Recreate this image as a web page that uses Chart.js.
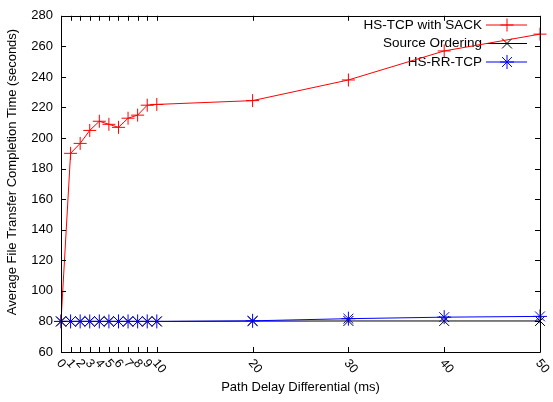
<!DOCTYPE html>
<html>
<head>
<meta charset="utf-8">
<script src="https://cdn.jsdelivr.net/npm/chart.js@4/dist/chart.umd.min.js"></script>
<style>
  html, body { margin: 0; padding: 0; background: #fff; }
  #wrap { width: 553px; height: 402px; }
</style>
</head>
<body>
<div id="wrap"><canvas id="c" width="553" height="402"></canvas></div>
<script>
// data
const delays = [0, 1, 2, 3, 4, 5, 6, 7, 8, 9, 10, 20, 30, 40, 50];
const sackTimes = [80, 190, 196.5, 205, 211, 209, 207, 213, 215, 221.5, 222, 224.5, 238, 257, 268];
const orderingTimes = [80, 80, 80, 80, 80, 80, 80, 80, 80, 80, 80, 80.2, 80.3, 80.3, 80.3];
const rrTimes = [80, 80, 80, 80, 80, 80, 80, 80, 80, 80, 80, 80.4, 81.8, 82.8, 83.3];
const xTicks = [0, 1, 2, 3, 4, 5, 6, 7, 8, 9, 10, 20, 30, 40, 50];

const seriesNames = ['HS-TCP with SACK', 'Source Ordering', 'HS-RR-TCP'];
const seriesColours = ['#ff0000', '#000000', '#0000ff'];
const seriesMarkers = ['cross', 'crossRot', 'star'];
const markerSizes = [6.5, 7, 7];
const yTitle = 'Average File Transfer Completion Time (seconds)';

const FONT = '"Liberation Sans", Arial, Helvetica, sans-serif';
Chart.defaults.font.family = FONT;
Chart.defaults.font.size = 13;
Chart.defaults.color = '#000';

function toPoints(ys) {
    return delays.map((x, i) => ({x: x, y: ys[i]}));
}

function makeSet(i, ys) {
    return {
        label: seriesNames[i],
        data: toPoints(ys),
        borderColor: seriesColours[i],
        backgroundColor: seriesColours[i],
        borderWidth: 1,
        pointStyle: seriesMarkers[i],
        pointRadius: markerSizes[i],
        pointBorderWidth: 1,
        pointBorderColor: seriesColours[i],
        tension: 0,
        clip: false,
        order: 3 - i
    };
}

// gnuplot style frame: box, inward ticks, rotated x labels, key in the corner
const framePlugin = {
    id: 'frame',
    beforeDatasetsDraw(chart) {
        const ctx = chart.ctx;
        // key
        ctx.save();
        ctx.font = '13.5px ' + FONT;
        ctx.textAlign = 'right';
        ctx.textBaseline = 'middle';
        const rows = [25, 43.5, 62];
        for (let i = 0; i < seriesNames.length; i++) {
            const y = rows[i];
            ctx.fillStyle = '#000';
            ctx.fillText(seriesNames[i], 482, y);
            ctx.strokeStyle = seriesColours[i];
            ctx.lineWidth = 1;
            ctx.beginPath();
            ctx.moveTo(486, y);
            ctx.lineTo(527, y);
            ctx.stroke();
            Chart.helpers.drawPoint(ctx, {
                pointStyle: seriesMarkers[i], radius: markerSizes[i], borderWidth: 1, rotation: 0
            }, 507, y);
        }
        // y axis title, drawn by hand so it sits where the original has it
        ctx.save();
        ctx.translate(12, 172);
        ctx.rotate(-Math.PI / 2);
        ctx.textAlign = 'center';
        ctx.font = '13px ' + FONT;
        ctx.fillText(yTitle, 0, 0);
        ctx.restore();
        ctx.restore();
    },
    afterDraw(chart) {
        const ctx = chart.ctx;
        const a = chart.chartArea;
        const xs = chart.scales.x;
        const ys = chart.scales.y;
        ctx.save();
        ctx.strokeStyle = '#000';
        ctx.lineWidth = 1;
        ctx.beginPath();
        ctx.rect(Math.round(a.left) + 0.5, Math.round(a.top) + 0.5,
                 Math.round(a.right - a.left), Math.round(a.bottom - a.top));
        ctx.stroke();
        ctx.beginPath();
        xTicks.forEach(v => {
            const px = Math.round(xs.getPixelForValue(v)) + 0.5;
            ctx.moveTo(px, a.bottom); ctx.lineTo(px, a.bottom - 5);
            ctx.moveTo(px, a.top); ctx.lineTo(px, a.top + 5);
        });
        ys.ticks.forEach(t => {
            const py = Math.round(ys.getPixelForValue(t.value)) + 0.5;
            ctx.moveTo(a.left, py); ctx.lineTo(a.left + 5, py);
            ctx.moveTo(a.right, py); ctx.lineTo(a.right - 5, py);
        });
        ctx.stroke();
        // rotated x tick labels
        ctx.fillStyle = '#000';
        ctx.font = '12.5px ' + FONT;
        ctx.textAlign = 'left';
        ctx.textBaseline = 'middle';
        xTicks.forEach(v => {
            const px = xs.getPixelForValue(v);
            ctx.save();
            ctx.translate(px - 2, a.bottom + 9);
            ctx.rotate(50 * Math.PI / 180);
            ctx.fillText(String(v), 0, 0);
            ctx.restore();
        });
        ctx.restore();
    }
};

new Chart(document.getElementById('c'), {
    type: 'line',
    data: {
        datasets: [
            makeSet(0, sackTimes),
            makeSet(1, orderingTimes),
            makeSet(2, rrTimes)
        ]
    },
    options: {
        responsive: false,
        animation: false,
        layout: {padding: {top: 12, right: 13, left: 0, bottom: 0}},
        plugins: {legend: {display: false}, tooltip: {enabled: false}},
        scales: {
            x: {
                type: 'linear',
                min: 0,
                max: 50,
                afterBuildTicks: scale => { scale.ticks = xTicks.map(v => ({value: v})); },
                afterFit: scale => { scale.height = 50; },
                grid: {display: false},
                border: {display: false},
                ticks: {display: false},
                title: {display: true, text: 'Path Delay Differential (ms)', padding: {top: 0, bottom: 7}}
            },
            y: {
                min: 60,
                max: 280,
                afterFit: scale => { scale.width = 61; },
                grid: {display: false, drawTicks: false},
                border: {display: false},
                ticks: {stepSize: 20, padding: 8}
            }
        }
    },
    plugins: [framePlugin]
});
</script>
</body>
</html>
